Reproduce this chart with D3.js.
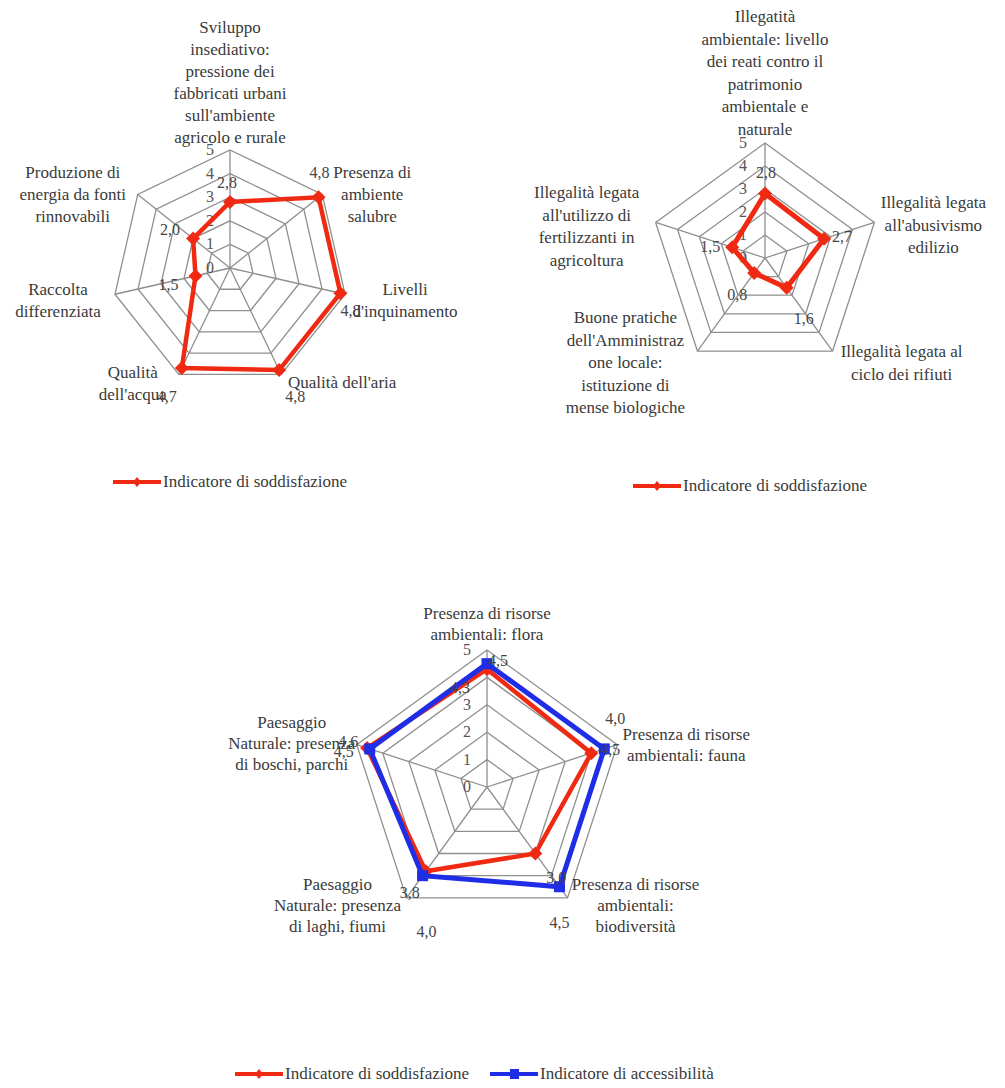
<!DOCTYPE html>
<html>
<head>
<meta charset="utf-8">
<script src="https://cdn.jsdelivr.net/npm/d3@7"></script>
<style>
  html, body { margin: 0; padding: 0; background: #ffffff; }
  svg { display: block; }
</style>
</head>
<body>
<svg id="chart" width="1005" height="1088" font-family="'Liberation Serif', 'Times New Roman', 'DejaVu Serif', serif"></svg>
<script>
// ---------------- DATA ----------------
const tickValues = [0, 1, 2, 3, 4, 5];

const chart1Categories = [
  ["Sviluppo", "insediativo:", "pressione dei", "fabbricati urbani", "sull'ambiente", "agricolo e rurale"],
  ["Presenza di", "ambiente", "salubre"],
  ["Livelli", "d'inquinamento"],
  ["Qualità dell'aria"],
  ["Qualità", "dell'acqua"],
  ["Raccolta", "differenziata"],
  ["Produzione di", "energia da fonti", "rinnovabili"]
];
const chart1Satisfaction = [2.8, 4.8, 4.8, 4.8, 4.7, 1.5, 2.0];

const chart2Categories = [
  ["Illegatità", "ambientale: livello", "dei reati contro il", "patrimonio", "ambientale e", "naturale"],
  ["Illegalità legata", "all'abusivismo", "edilizio"],
  ["Illegalità legata al", "ciclo dei rifiuti"],
  ["Buone pratiche", "dell'Amministraz", "one locale:", "istituzione di", "mense biologiche"],
  ["Illegalità legata", "all'utilizzo di", "fertilizzanti in", "agricoltura"]
];
const chart2Satisfaction = [2.8, 2.7, 1.6, 0.8, 1.5];

const chart3Categories = [
  ["Presenza di risorse", "ambientali: flora"],
  ["Presenza di risorse", "ambientali: fauna"],
  ["Presenza di risorse", "ambientali:", "biodiversità"],
  ["Paesaggio", "Naturale: presenza", "di laghi, fiumi"],
  ["Paesaggio", "Naturale: presenza", "di boschi, parchi"]
];
const chart3Satisfaction = [4.3, 4.0, 3.0, 3.8, 4.6];
const chart3Accessibility = [4.5, 4.5, 4.5, 4.0, 4.5];

const legendSatisfaction = "Indicatore di soddisfazione";
const legendAccessibility = "Indicatore di accessibilità";

// ---------------- STYLE / LAYOUT ----------------
const FONT = "'Liberation Serif', 'Times New Roman', 'DejaVu Serif', serif";
const RED = "#f02a12";
const BLUE = "#1f2ee6";
const GRID = "#8f8f8f";
const TEXT = "#3a3a3a";
const fmt = v => d3.format(".1f")(v).replace(".", ",");

const svg = d3.select("#chart");

function txt(g) {
  return g.append("text").attr("font-family", FONT).attr("fill", TEXT);
}

function radar(cfg) {
  const n = cfg.categories.length;
  const g = svg.append("g");
  const r = d3.scaleLinear().domain([0, 5]).range([0, cfg.R]);
  const ang = d3.scaleLinear().domain([0, n]).range([0, 2 * Math.PI]);
  const pt = (i, v) => [cfg.cx + r(v) * Math.sin(ang(i)), cfg.cy - r(v) * Math.cos(ang(i))];
  const idx = d3.range(n);

  // rings
  tickValues.filter(t => t > 0).forEach(t => {
    g.append("path")
      .attr("d", d3.line()(idx.map(i => pt(i, t))) + "Z")
      .attr("fill", "none").attr("stroke", GRID).attr("stroke-width", 1.3);
  });
  // spokes
  idx.forEach(i => {
    const p = pt(i, 5);
    g.append("line").attr("x1", cfg.cx).attr("y1", cfg.cy).attr("x2", p[0]).attr("y2", p[1])
      .attr("stroke", GRID).attr("stroke-width", 1.3);
  });
  // tick labels
  tickValues.forEach(t => {
    if (cfg.hideTicks && cfg.hideTicks.includes(t)) return;
    txt(g).attr("x", cfg.cx - cfg.tickDx).attr("y", cfg.cy - r(t) + 5)
      .attr("text-anchor", "middle").attr("font-size", 16).attr("fill", "#555").text(t);
  });
  // category labels
  cfg.categories.forEach((lines, i) => {
    const v = pt(i, 5);
    const o = cfg.catOffsets[i];
    const t = txt(g).attr("text-anchor", "middle").attr("font-size", cfg.fontSize);
    lines.forEach((ln, k) => {
      t.append("tspan").attr("x", v[0] + o[0]).attr("y", v[1] + o[1] + k * cfg.lh + 5).text(ln);
    });
  });
  // series
  cfg.series.forEach(s => {
    const pts = s.values.map((v, i) => pt(i, v));
    g.append("path").attr("d", d3.line()(pts) + "Z")
      .attr("fill", "none").attr("stroke", s.color).attr("stroke-width", s.width)
      .attr("stroke-linejoin", "miter");
    pts.forEach(p => {
      const m = s.msize;
      if (s.marker === "diamond") {
        g.append("path").attr("d", `M${p[0]},${p[1] - m}L${p[0] + m},${p[1]}L${p[0]},${p[1] + m}L${p[0] - m},${p[1]}Z`)
          .attr("fill", s.color);
      } else {
        g.append("rect").attr("x", p[0] - m).attr("y", p[1] - m).attr("width", 2 * m).attr("height", 2 * m)
          .attr("fill", s.color);
      }
    });
  });
  // value labels
  cfg.series.forEach(s => {
    s.values.forEach((v, i) => {
      const p = pt(i, v);
      const o = s.labelOffsets[i];
      txt(g).attr("x", p[0] + o[0]).attr("y", p[1] + o[1] + 5)
        .attr("text-anchor", "middle").attr("font-size", 16).attr("fill", "#444").text(fmt(v));
    });
  });
}

function legend(x, y, items) {
  const g = svg.append("g");
  let cx = x;
  items.forEach(it => {
    g.append("line").attr("x1", cx).attr("y1", y).attr("x2", cx + 48).attr("y2", y)
      .attr("stroke", it.color).attr("stroke-width", 4);
    if (it.marker === "square") {
      g.append("rect").attr("x", cx + 20).attr("y", y - 5).attr("width", 9).attr("height", 10).attr("fill", it.color);
    } else {
      g.append("path").attr("d", `M${cx + 24},${y - 5}L${cx + 28},${y}L${cx + 24},${y + 5}L${cx + 20},${y}Z`).attr("fill", it.color);
    }
    txt(g).attr("x", cx + 50).attr("y", y + 5).attr("font-size", 17).text(it.label);
    cx += it.step;
  });
}

// ---------------- CHART 1 ----------------
radar({
  cx: 230, cy: 268, R: 118, fontSize: 17, lh: 22, tickDx: 20,
  categories: chart1Categories,
  catOffsets: [[0, -122], [50, -21], [60, -4], [61, 9], [-46, -1], [-57, -4], [-65, -21]],
  series: [{
    values: chart1Satisfaction, color: RED, width: 4.5, marker: "diamond", msize: 7,
    labelOffsets: [[-3, -19], [1, -24], [10, 18], [16, 27], [-15, 29], [-27, 9], [-23, -9]]
  }]
});
legend(113, 482, [{ color: RED, marker: "diamond", label: legendSatisfaction, step: 0 }]);

// ---------------- CHART 2 ----------------
radar({
  cx: 765, cy: 258, R: 115, fontSize: 17, lh: 22.5, tickDx: 22,
  categories: chart2Categories,
  catOffsets: [[0, -126], [59, -19], [69, 1], [-72, -33], [-69, -29]],
  series: [{
    values: chart2Satisfaction, color: RED, width: 5, marker: "diamond", msize: 7,
    labelOffsets: [[1, -21], [18, -2], [17, 31], [-17, 22], [-22, 0]]
  }]
});
legend(633, 486, [{ color: RED, marker: "diamond", label: legendSatisfaction, step: 0 }]);

// ---------------- CHART 3 ----------------
radar({
  cx: 487, cy: 787, R: 137, fontSize: 17, lh: 21, tickDx: 20, hideTicks: [4],
  categories: chart3Categories,
  catOffsets: [[0, -36], [69, -10], [68, -13], [-69, -13], [-65, -22]],
  series: [
    {
      values: chart3Satisfaction, color: RED, width: 4.5, marker: "diamond", msize: 7,
      labelOffsets: [[-27, 19], [24, -34], [21, 24], [-16, 22], [-19, -6]]
    },
    {
      values: chart3Accessibility, color: BLUE, width: 5, marker: "square", msize: 5.5,
      labelOffsets: [[11, -3], [6, 1], [0, 36], [4, 56], [-26, 3]]
    }
  ]
});
legend(235, 1074, [
  { color: RED, marker: "diamond", label: legendSatisfaction, step: 255 },
  { color: BLUE, marker: "square", label: legendAccessibility, step: 0 }
]);
</script>
</body>
</html>
